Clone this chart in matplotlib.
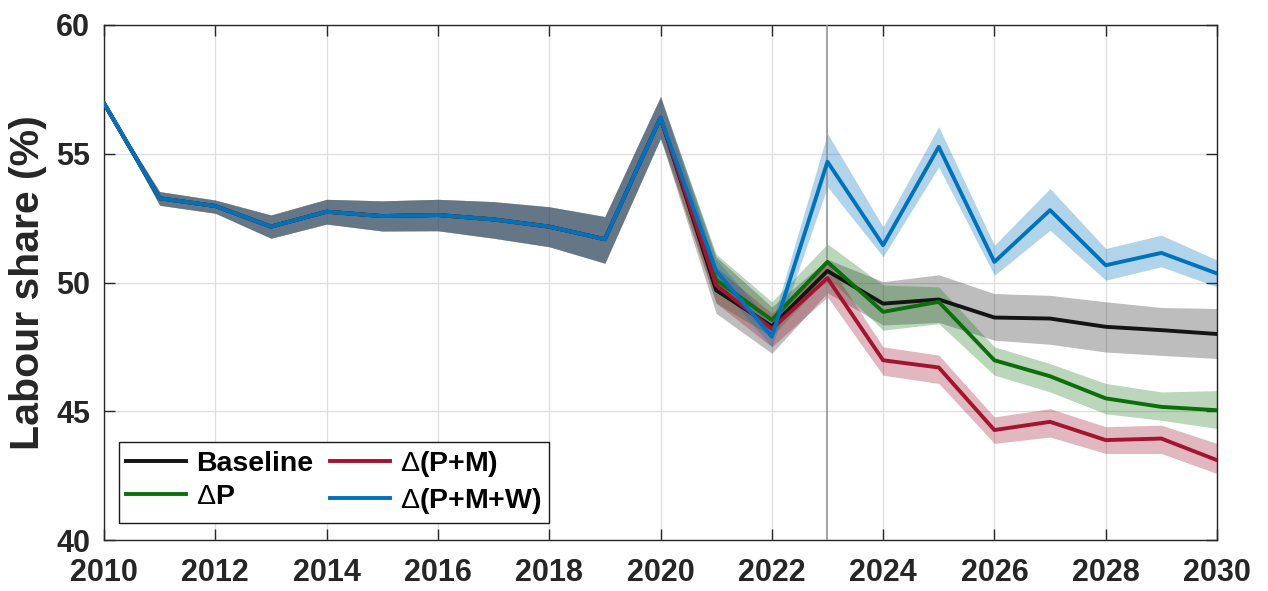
import numpy as np
import matplotlib
matplotlib.use("Agg")
import matplotlib.pyplot as plt

plt.rcParams['font.family'] = ['Liberation Sans', 'DejaVu Sans']
plt.rcParams['font.weight'] = 'bold'
plt.rcParams['mathtext.fontset'] = 'custom'
plt.rcParams['mathtext.rm'] = 'Liberation Sans:weight=normal'
plt.rcParams['mathtext.default'] = 'rm'

years = np.arange(2010, 2031)

# Observed period 2010-2020, shared by all scenarios
hist = [56.96, 53.27, 52.97, 52.17, 52.75, 52.58, 52.62, 52.45, 52.17, 51.68, 56.40]
hist_lo = [56.96, 53.00, 52.69, 51.72, 52.27, 52.00, 52.01, 51.72, 51.39, 50.75, 55.60]
hist_hi = [56.96, 53.53, 53.20, 52.62, 53.23, 53.17, 53.23, 53.14, 52.94, 52.56, 57.22]

# Scenario paths 2021-2030 (central value, lower and upper bound)
base = [49.70, 48.30, 50.45, 49.18, 49.34, 48.64, 48.60, 48.28, 48.15, 48.00]
base_lo = [48.80, 47.25, 49.60, 48.35, 48.45, 47.76, 47.60, 47.30, 47.17, 47.05]
base_hi = [51.00, 49.05, 50.90, 50.03, 50.30, 49.57, 49.50, 49.25, 49.03, 48.99]

dp = [50.10, 48.55, 50.80, 48.86, 49.25, 46.98, 46.36, 45.50, 45.17, 45.04]
dp_lo = [49.20, 47.90, 50.20, 48.15, 48.40, 46.40, 45.75, 44.90, 44.65, 44.33]
dp_hi = [51.10, 49.25, 51.50, 49.90, 49.83, 47.50, 46.85, 46.08, 45.75, 45.80]

dpm = [49.90, 48.20, 50.17, 46.98, 46.70, 44.27, 44.59, 43.88, 43.94, 43.10]
dpm_lo = [49.20, 47.50, 49.44, 46.40, 46.08, 43.75, 44.00, 43.36, 43.36, 42.58]
dpm_hi = [50.60, 48.80, 50.80, 47.50, 47.18, 44.78, 45.10, 44.40, 44.46, 43.75]

dpmw = [50.45, 47.90, 54.69, 51.45, 55.27, 50.80, 52.81, 50.67, 51.15, 50.35]
dpmw_lo = [50.00, 47.50, 53.72, 51.00, 54.49, 50.28, 52.03, 50.09, 50.61, 49.83]
dpmw_hi = [50.90, 48.40, 55.79, 52.16, 56.05, 51.45, 53.65, 51.32, 51.84, 50.87]

labels = ['Baseline', r'$\Delta$P', r'$\Delta$(P+M)', r'$\Delta$(P+M+W)']
colors = ['#141414', '#0b6e0b', '#a2142f', '#0072bd']
band_alpha = [0.28, 0.28, 0.30, 0.30]

series = [(base, base_lo, base_hi), (dp, dp_lo, dp_hi),
          (dpm, dpm_lo, dpm_hi), (dpmw, dpmw_lo, dpmw_hi)]

fig = plt.figure(figsize=(12.68, 5.91), dpi=100)
ax = fig.add_axes([104 / 1268, 1 - 540 / 591, (1217 - 104) / 1268, (540 - 25) / 591])

for (mid, lo, hi), c, a in zip(series, colors, band_alpha):
    ax.fill_between(years, np.r_[hist_lo, lo], np.r_[hist_hi, hi],
                    color=c, alpha=a, lw=0, zorder=2)

ax.axvline(2023, color='#8a8a8a', lw=1.1, zorder=3)

for (mid, lo, hi), c, lab in zip(series, colors, labels):
    ax.plot(years, np.r_[hist, mid], color=c, lw=2.8, label=lab, zorder=4)

ax.set_xlim(2010, 2030)
ax.set_ylim(40, 60)
ax.set_xticks(np.arange(2010, 2031, 2))
ax.set_yticks(np.arange(40, 61, 5))
ax.grid(True, color='#dedede', lw=0.9, zorder=0)
ax.set_axisbelow(True)

ax.tick_params(direction='in', top=True, right=True, length=8, width=1,
               labelsize=22, colors='#262626', labelcolor='#262626')
ax.tick_params(axis='x', pad=13)
ax.tick_params(axis='y', pad=10)
for s in ax.spines.values():
    s.set_color('#262626')
    s.set_linewidth(1.0)

ax.set_ylabel('Labour share (%)', fontsize=29.5, fontweight='bold', color='#262626')
ax.yaxis.set_label_coords(-0.051, 0.5)

leg = ax.legend(loc='lower left', bbox_to_anchor=(0.0135, 0.033), borderaxespad=0,
                ncol=2, fontsize=20.5, frameon=True, fancybox=False, framealpha=1,
                edgecolor='#1a1a1a', handlelength=2.1, handletextpad=0.35,
                columnspacing=0.6, labelspacing=0.25, borderpad=0.25)
leg.get_frame().set_linewidth(1.0)
leg.set_zorder(10)

fig.savefig('out.png', dpi=100)
